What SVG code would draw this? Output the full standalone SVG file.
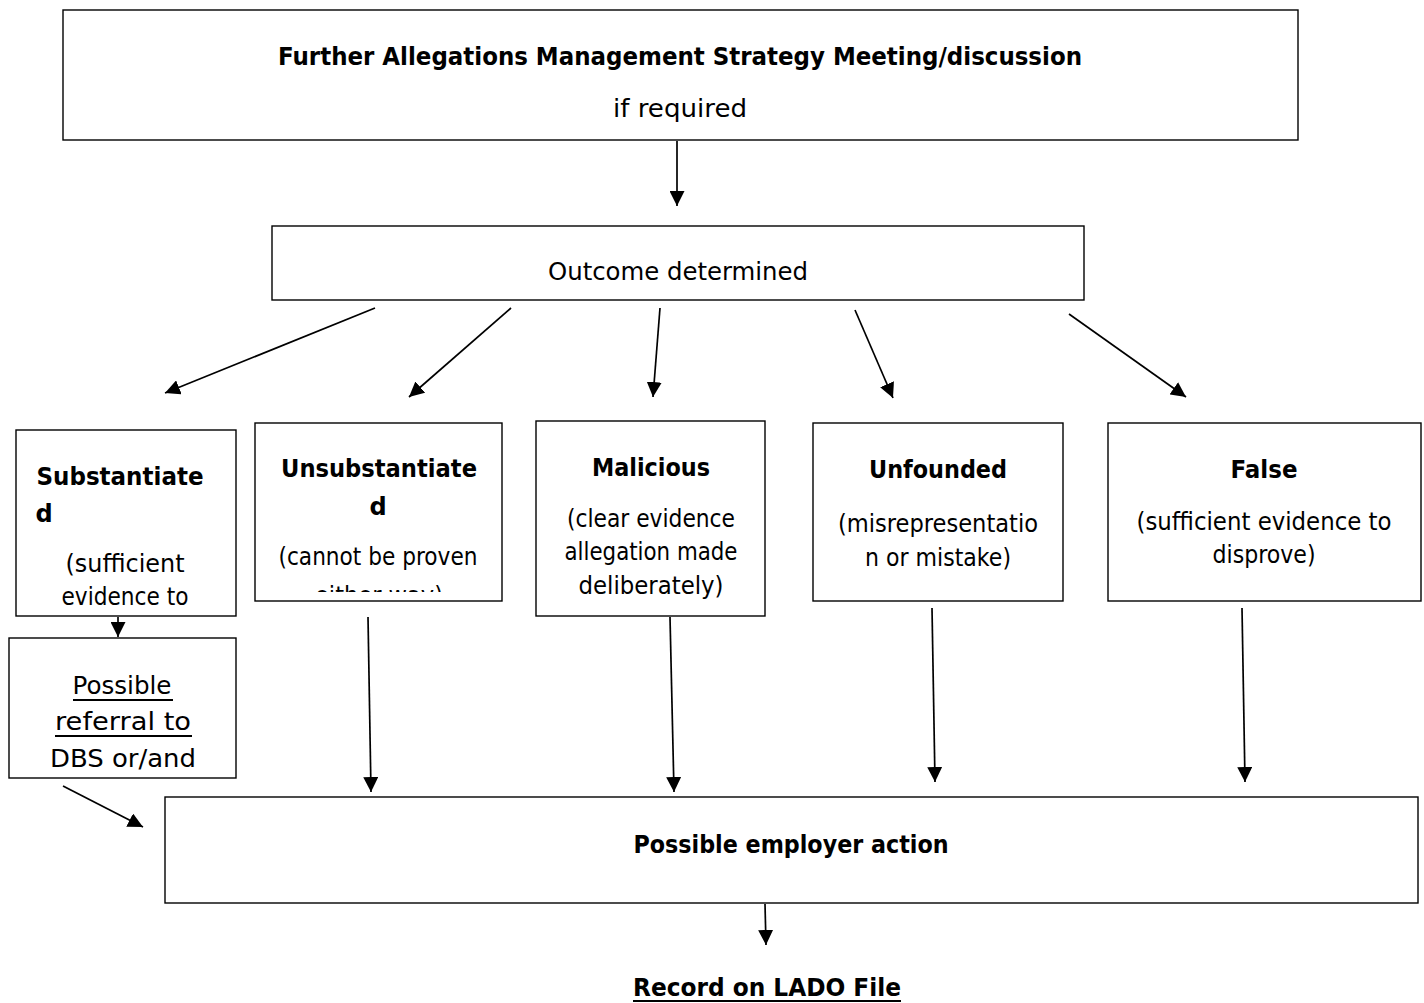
<svg xmlns="http://www.w3.org/2000/svg" width="1424" height="1003" viewBox="0 0 1424 1003">
<style>
.box{fill:#fff;stroke:#000;stroke-width:1.4}
.t{font-family:"DejaVu Sans","Liberation Sans",sans-serif;font-size:24px;fill:#000;text-anchor:middle}
.b{font-weight:bold}
.c{stroke:#000;stroke-width:1.7;fill:none;marker-end:url(#ah)}
.u{stroke:#000;stroke-width:2}
</style>
<defs>
<marker id="ah" viewBox="0 0 10 10" refX="10" refY="5" markerWidth="15" markerHeight="15" markerUnits="userSpaceOnUse" orient="auto"><path d="M0,0 L10,5 L0,10 z" fill="#000"/></marker>
<clipPath id="clipU"><rect x="255" y="423" width="247" height="169"/></clipPath>
</defs>
<rect width="1424" height="1003" fill="#fff"/>
<g id="connectors">
<line class="c" x1="677" y1="141" x2="677" y2="206"/>
<line class="c" x1="375" y1="308" x2="165" y2="393"/>
<line class="c" x1="511" y1="308" x2="409" y2="397"/>
<line class="c" x1="660" y1="308" x2="653" y2="397"/>
<line class="c" x1="855" y1="310" x2="893" y2="398"/>
<line class="c" x1="1069" y1="314" x2="1186" y2="397"/>
<line class="c" x1="118" y1="617" x2="118" y2="637"/>
<line class="c" x1="368" y1="617" x2="371" y2="792"/>
<line class="c" x1="670" y1="617" x2="674" y2="792"/>
<line class="c" x1="932" y1="608" x2="935" y2="782"/>
<line class="c" x1="1242" y1="608" x2="1245" y2="782"/>
<line class="c" x1="63" y1="786" x2="143" y2="827"/>
<line class="c" x1="765" y1="904" x2="766" y2="945"/>
</g>
<g id="top">
<rect class="box" x="63" y="10" width="1235" height="130"/>
<text class="t b" x="680" y="65" textLength="804" lengthAdjust="spacingAndGlyphs">Further Allegations Management Strategy Meeting/discussion</text>
<text class="t" x="680" y="117" textLength="134" lengthAdjust="spacingAndGlyphs">if required</text>
</g>
<g id="outcome">
<rect class="box" x="272" y="226" width="812" height="74"/>
<text class="t" x="678" y="280" textLength="260" lengthAdjust="spacingAndGlyphs">Outcome determined</text>
</g>
<g id="substantiated">
<rect class="box" x="16" y="430" width="220" height="186"/>
<text class="t b" x="120" y="485" textLength="167" lengthAdjust="spacingAndGlyphs">Substantiate</text>
<text class="t b" x="44" y="522">d</text>
<text class="t" x="125" y="572" textLength="119" lengthAdjust="spacingAndGlyphs">(sufficient</text>
<text class="t" x="125" y="605" textLength="127" lengthAdjust="spacingAndGlyphs">evidence to</text>
</g>
<g id="unsubstantiated">
<rect class="box" x="255" y="423" width="247" height="178"/>
<text class="t b" x="379" y="477" textLength="196" lengthAdjust="spacingAndGlyphs">Unsubstantiate</text>
<text class="t b" x="378" y="515">d</text>
<text class="t" x="378" y="565" textLength="199" lengthAdjust="spacingAndGlyphs">(cannot be proven</text>
<text class="t" x="379" y="604" textLength="128" lengthAdjust="spacingAndGlyphs" clip-path="url(#clipU)">either way)</text>
</g>
<g id="malicious">
<rect class="box" x="536" y="421" width="229" height="195"/>
<text class="t b" x="651" y="476" textLength="118" lengthAdjust="spacingAndGlyphs">Malicious</text>
<text class="t" x="651" y="527" textLength="168" lengthAdjust="spacingAndGlyphs">(clear evidence</text>
<text class="t" x="651" y="560" textLength="173" lengthAdjust="spacingAndGlyphs">allegation made</text>
<text class="t" x="651" y="594" textLength="145" lengthAdjust="spacingAndGlyphs">deliberately)</text>
</g>
<g id="unfounded">
<rect class="box" x="813" y="423" width="250" height="178"/>
<text class="t b" x="938" y="478" textLength="138" lengthAdjust="spacingAndGlyphs">Unfounded</text>
<text class="t" x="938" y="532" textLength="200" lengthAdjust="spacingAndGlyphs">(misrepresentatio</text>
<text class="t" x="938" y="566" textLength="146" lengthAdjust="spacingAndGlyphs">n or mistake)</text>
</g>
<g id="false">
<rect class="box" x="1108" y="423" width="313" height="178"/>
<text class="t b" x="1264" y="478" textLength="67" lengthAdjust="spacingAndGlyphs">False</text>
<text class="t" x="1264" y="530" textLength="255" lengthAdjust="spacingAndGlyphs">(sufficient evidence to</text>
<text class="t" x="1264" y="563" textLength="103" lengthAdjust="spacingAndGlyphs">disprove)</text>
</g>
<g id="referral">
<rect class="box" x="9" y="638" width="227" height="140"/>
<text class="t" x="122" y="694" textLength="99" lengthAdjust="spacingAndGlyphs">Possible</text>
<line class="u" x1="73" y1="700" x2="173" y2="700"/>
<text class="t" x="123" y="730" textLength="136" lengthAdjust="spacingAndGlyphs">referral to</text>
<line class="u" x1="55" y1="736" x2="192" y2="736"/>
<text class="t" x="123" y="767" textLength="146" lengthAdjust="spacingAndGlyphs">DBS or/and</text>
</g>
<g id="employer">
<rect class="box" x="165" y="797" width="1253" height="106"/>
<text class="t b" x="791" y="853" textLength="315" lengthAdjust="spacingAndGlyphs">Possible employer action</text>
</g>
<g id="lado">
<text class="t b" x="767" y="996" textLength="268" lengthAdjust="spacingAndGlyphs">Record on LADO File</text>
<line class="u" x1="633" y1="1001" x2="901" y2="1001"/>
</g>
</svg>
